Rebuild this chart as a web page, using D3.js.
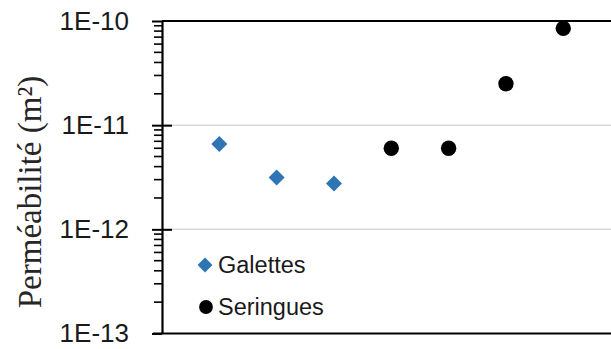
<!DOCTYPE html>
<html>
<head>
<meta charset="utf-8">
<script src="https://cdn.jsdelivr.net/npm/d3@7"></script>
<style>
  html, body { margin: 0; padding: 0; background: #fff; }
  svg { display: block; }
</style>
</head>
<body>
<svg id="chart" width="611" height="349"></svg>
<script>
// Sample positions along the horizontal axis and measured permeabilities (m²)
const galettesX = [1, 2, 3];
const galettesY = [6.6e-12, 3.15e-12, 2.75e-12];
const seringuesX = [4, 5, 6, 7];
const seringuesY = [6.0e-12, 6.0e-12, 2.5e-11, 8.5e-11];
const yTickValues = [1e-13, 1e-12, 1e-11, 1e-10];
const yTickLabels = ["1E-13", "1E-12", "1E-11", "1E-10"];
const seriesNames = ["Galettes", "Seringues"];

const W = 611, H = 349;
const svg = d3.select("#chart");

const x = d3.scaleLinear().domain([0, 8]).range([162, 620.6]);
const y = d3.scaleLog().domain([1e-13, 1e-10]).range([333.5, 21]);

const blue = "#2e75b6";
const sansFont = "'Liberation Sans', Arial, sans-serif";

// Light horizontal gridlines at each decade
svg.append("g")
  .selectAll("line")
  .data(yTickValues.slice(1, 3))
  .join("line")
  .attr("x1", x(0)).attr("x2", W)
  .attr("y1", d => y(d)).attr("y2", d => y(d))
  .attr("stroke", "#d9d9d9").attr("stroke-width", 1.5);

// Top border of the plot area
svg.append("line")
  .attr("x1", x(0)).attr("x2", W)
  .attr("y1", y(1e-10)).attr("y2", y(1e-10))
  .attr("stroke", "#000").attr("stroke-width", 2);

// Bottom (horizontal) axis line
svg.append("line")
  .attr("x1", x(0) - 9).attr("x2", W)
  .attr("y1", y(1e-13)).attr("y2", y(1e-13))
  .attr("stroke", "#000").attr("stroke-width", 2.2);

// Minor ticks: 2..9 within each decade, outside the axis
const minorTicks = [];
[1e-13, 1e-12, 1e-11].forEach(d => {
  for (let k = 2; k <= 9; k++) minorTicks.push(d * k);
});
svg.append("g")
  .selectAll("line")
  .data(minorTicks)
  .join("line")
  .attr("x1", x(0) - 8).attr("x2", x(0))
  .attr("y1", d => y(d)).attr("y2", d => y(d))
  .attr("stroke", "#000").attr("stroke-width", 1.6);

// Left axis with crossing major ticks
const yAxis = d3.axisLeft(y)
  .tickValues(yTickValues)
  .tickFormat((d, i) => yTickLabels[i])
  .tickSizeInner(0)
  .tickSizeOuter(0)
  .tickPadding(33);

const gy = svg.append("g")
  .attr("transform", `translate(${x(0)},0)`)
  .call(yAxis);
gy.select(".domain").attr("stroke", "#000").attr("stroke-width", 2.2);
gy.selectAll(".tick text")
  .attr("fill", "#1a1a1a")
  .style("font-family", sansFont)
  .style("font-size", "26px");
gy.selectAll(".tick")
  .append("line")
  .attr("x1", -10).attr("x2", d => (d === 1e-10 || d === 1e-13) ? 0 : 10)
  .attr("y1", 0).attr("y2", 0)
  .attr("stroke", "#000").attr("stroke-width", 2);

// Axis title
svg.append("text")
  .attr("transform", `translate(41,192) rotate(-90)`)
  .attr("text-anchor", "middle")
  .style("font-family", "'Liberation Serif', 'Times New Roman', serif")
  .style("font-size", "33px")
  .attr("fill", "#262626")
  .text("Perméabilité (m²)");

// Markers
svg.append("g")
  .selectAll("path")
  .data(galettesX.map((v, i) => [v, galettesY[i]]))
  .join("path")
  .attr("transform", d => `translate(${x(d[0])},${y(d[1])}) rotate(45)`)
  .attr("d", d3.symbol().type(d3.symbolSquare).size(128)())
  .attr("fill", blue);

svg.append("g")
  .selectAll("circle")
  .data(seringuesX.map((v, i) => [v, seringuesY[i]]))
  .join("circle")
  .attr("cx", d => x(d[0]))
  .attr("cy", d => y(d[1]))
  .attr("r", 7.7)
  .attr("fill", "#000");

// Legend
const legend = svg.append("g");
legend.append("path")
  .attr("transform", "translate(205,265) rotate(45)")
  .attr("d", d3.symbol().type(d3.symbolSquare).size(110)())
  .attr("fill", blue);
legend.append("circle")
  .attr("cx", 206).attr("cy", 307).attr("r", 6.9)
  .attr("fill", "#000");
legend.selectAll("text")
  .data(seriesNames)
  .join("text")
  .attr("x", 218)
  .attr("y", (d, i) => 273 + i * 41.5)
  .style("font-family", sansFont)
  .style("font-size", "23.5px")
  .attr("fill", "#1a1a1a")
  .text(d => d);
</script>
</body>
</html>
